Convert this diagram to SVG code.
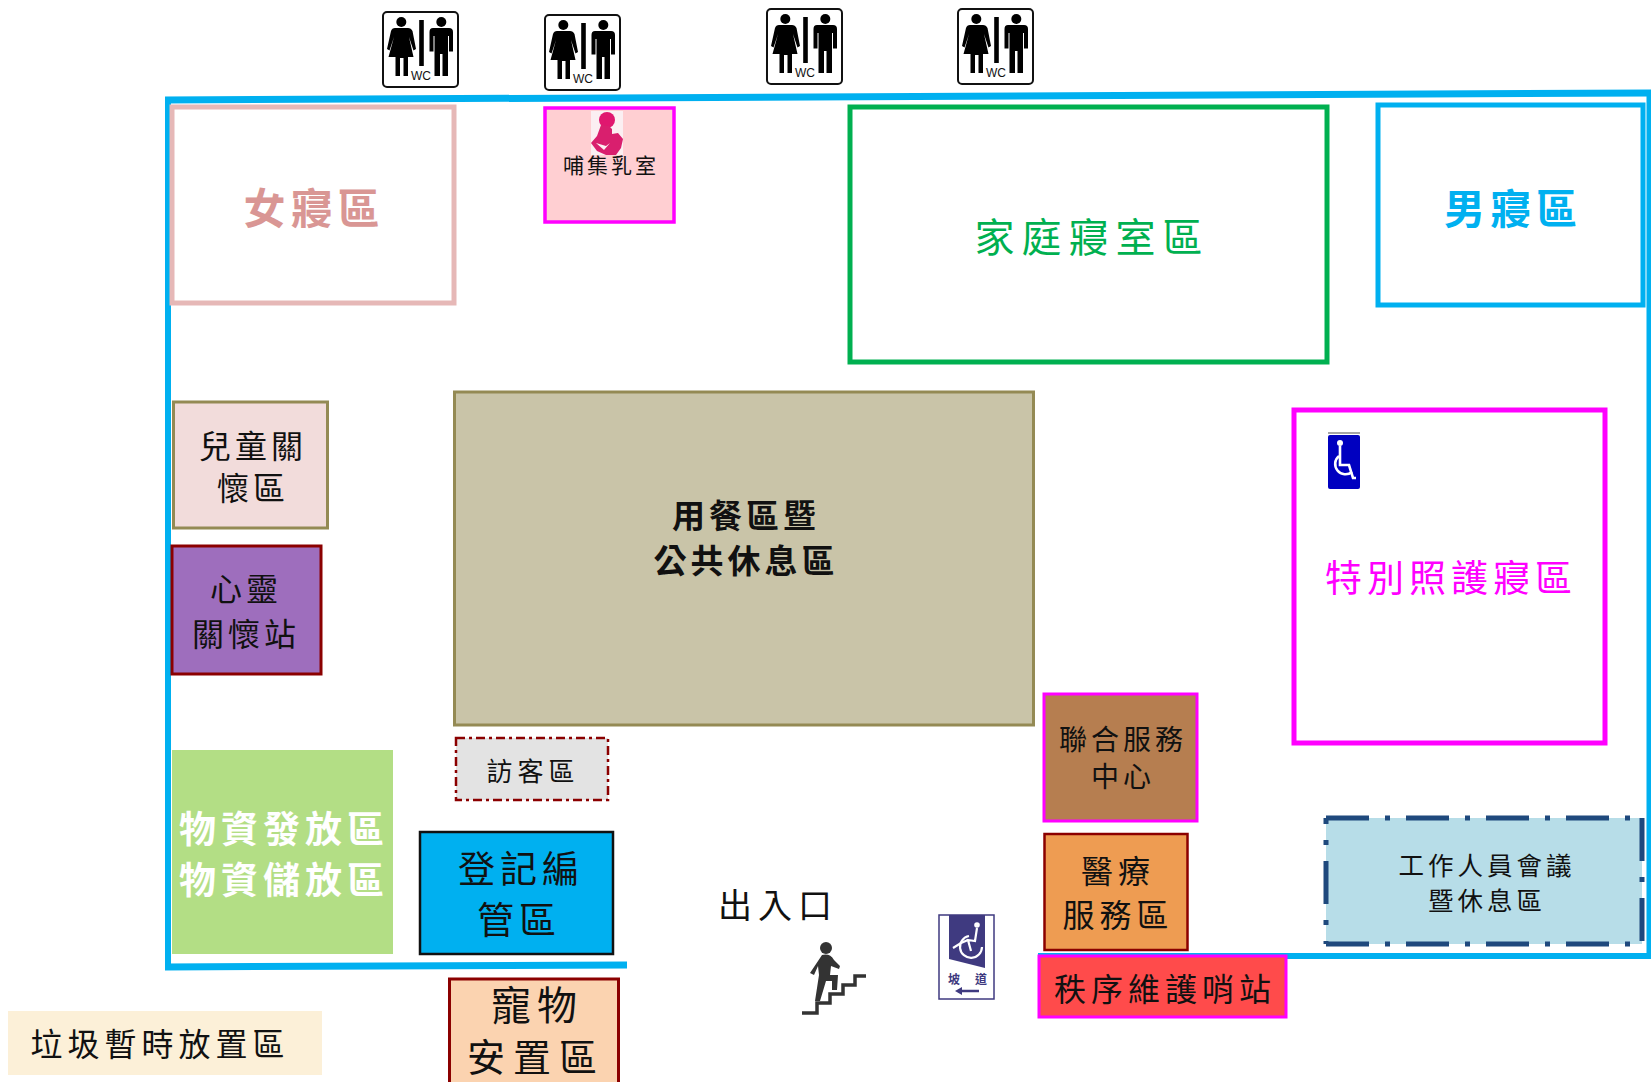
<svg xmlns="http://www.w3.org/2000/svg" xmlns:xlink="http://www.w3.org/1999/xlink" width="1651" height="1082" viewBox="0 0 1651 1082">
<style>
text{font-family:"Noto Sans CJK TC","Noto Sans CJK SC",sans-serif;text-anchor:middle;dominant-baseline:central;fill:#111}
.b{font-weight:700}
.w{fill:none;stroke:#00B0F0;stroke-linejoin:miter}
</style>
<defs>
<g id="wc">
<rect x="1" y="1" width="75" height="75" rx="4" fill="#fff" stroke="#111" stroke-width="2"/>
<circle cx="19.300" cy="11" r="5" fill="#000"/>
<path d="M13 17H26Q29 17 30.500 20L34 38L31.500 39.500L27 26L31.500 46H26V65H21.500V47H18V65H13.500V46H6.500L12 26L7.500 39.500L5 38L9 20Q10 17 13 17Z" fill="#000"/>
<rect x="37.200" y="9" width="4.600" height="46" fill="#000"/>
<circle cx="59.300" cy="11" r="5" fill="#000"/>
<path d="M51 17H67Q71 17 71 21V40.500H67V25H66V65H60.500V43H58V65H52.500V25H51.500V40.500H47.500V21Q47.500 17 51 17Z" fill="#000"/>
<text x="39" y="65" font-size="12" style="font-family:'Liberation Sans',sans-serif;fill:#111">WC</text>
</g>
</defs>
<g id="connectors">
<path class="w" stroke-width="7" d="M165 100L1651 93"/>
<path class="w" stroke-width="6" d="M168 98V970"/>
<path class="w" stroke-width="7" d="M165 967L627 965"/>
<path class="w" stroke-width="5" d="M1649 92V957"/>
<path class="w" stroke-width="6" d="M1038 956H1651"/>
</g>
<g id="wc1"><use xlink:href="#wc" href="#wc" x="382" y="11"/></g>
<g id="wc2"><use xlink:href="#wc" href="#wc" x="544" y="14"/></g>
<g id="wc3"><use xlink:href="#wc" href="#wc" x="766" y="8"/></g>
<g id="wc4"><use xlink:href="#wc" href="#wc" x="957" y="8"/></g>
<g id="women"><rect x="172" y="107" width="282" height="196" fill="#fff" stroke="#E6B8B7" stroke-width="5"/><text class="b" x="314" y="205" font-size="42" letter-spacing="5" style="fill:#D99694">女寢區</text></g>
<g id="nursing"><rect x="545" y="108" width="129" height="114" fill="#FFCFD2" stroke="#FF00FF" stroke-width="3.500"/>
<rect x="591" y="111" width="32" height="44" fill="#FBEFF2"/>
<circle cx="607" cy="120" r="8" fill="#E0176F"/>
<path d="M601 125L597 136L591 143L597 151L606 155H616L621 148L623 139L618 133L612 134L612 129L609 126Z" fill="#D91F6E"/>
<path d="M596 143L604 150L610 143L606 146Z" fill="#FBEFF2"/>
<text x="611" y="164" font-size="21" letter-spacing="3">哺集乳室</text></g>
<g id="family"><rect x="850" y="107" width="477" height="255" fill="#fff" stroke="#00B050" stroke-width="5"/><text x="1092" y="235" font-size="40" letter-spacing="7" style="fill:#00B050">家庭寢室區</text></g>
<g id="men"><rect x="1378" y="105" width="265" height="200" fill="#fff" stroke="#00B0F0" stroke-width="5"/><text class="b" x="1513" y="206" font-size="41" letter-spacing="5" style="fill:#00B0F0">男寢區</text></g>
<g id="children"><rect x="173.500" y="402" width="154" height="126" fill="#F2DCDB" stroke="#948A54" stroke-width="3"/><text x="253" y="444" font-size="32" letter-spacing="4">兒童關</text><text x="253" y="486" font-size="32" letter-spacing="4">懷區</text></g>
<g id="spirit"><rect x="172" y="546" width="149" height="128" fill="#9E6EBD" stroke="#8B0000" stroke-width="3"/><text x="246" y="587" font-size="32" letter-spacing="4">心靈</text><text x="246" y="632" font-size="32" letter-spacing="4">關懷站</text></g>
<g id="dining"><rect x="454.500" y="392" width="579" height="333" fill="#C9C4A8" stroke="#948A54" stroke-width="3"/><text class="b" x="746" y="514" font-size="33" letter-spacing="4">用餐區暨</text><text class="b" x="746" y="559" font-size="33" letter-spacing="4">公共休息區</text></g>
<g id="special"><rect x="1294" y="410" width="311" height="333" fill="#fff" stroke="#FF00FF" stroke-width="5"/>
<text x="1451" y="576" font-size="37" letter-spacing="5" style="fill:#FF00FF">特別照護寢區</text>
<path d="M1328 433H1360" stroke="#888" stroke-width="1.500"/>
<rect x="1328" y="435" width="32" height="54" rx="2" fill="#0000C0"/>
<g fill="none" stroke="#fff" stroke-width="2.600"><path d="M1340 446V465H1349L1353 478H1356"/><path d="M1339 456A10 10 0 1 0 1352 472"/></g><circle cx="1340" cy="443" r="3" fill="#fff"/></g>
<g id="joint"><rect x="1044" y="694" width="153" height="127" fill="#B67E50" stroke="#FF00FF" stroke-width="3"/><text x="1123" y="738" font-size="28" letter-spacing="4">聯合服務</text><text x="1123" y="775" font-size="28" letter-spacing="4">中心</text></g>
<g id="visitor"><rect x="456" y="738" width="152" height="62" fill="#E3E3E3" stroke="#8B0000" stroke-width="2.500" stroke-dasharray="9 4 3 4"/><text x="533" y="769" font-size="26" letter-spacing="5">訪客區</text></g>
<g id="supply"><rect x="172" y="750" width="221" height="204" fill="#B3DE85"/><text class="b" x="284" y="827" font-size="37" letter-spacing="5" style="fill:#fff">物資發放區</text><text class="b" x="284" y="878" font-size="37" letter-spacing="5" style="fill:#fff">物資儲放區</text></g>
<g id="register"><rect x="420" y="832" width="193" height="122" fill="#00B0F0" stroke="#111" stroke-width="2.500"/><text x="521" y="867" font-size="37" letter-spacing="5">登記編</text><text x="519" y="918" font-size="37" letter-spacing="5">管區</text></g>
<g id="entrance"><text x="778" y="903" font-size="34" letter-spacing="6">出入口</text></g>
<g id="stairs"><path d="M802 1013H817V1003H830V994H843V985H855V976H866" fill="none" stroke="#333" stroke-width="3.500"/>
<circle cx="826" cy="948" r="6" fill="#333"/>
<path d="M822 955Q830 953 834 960L840 966L839 969L831 966L830 975L838 975L837 990L832 990L832 981L826 981L820 1001L815 1001L819 975L818 966L814 975L810 973Z" fill="#333"/></g>
<g id="ramp"><rect x="939" y="915" width="55" height="84" fill="#fff" stroke="#3F3A80" stroke-width="1.500"/>
<path d="M949 915H985V968L949 959Z" fill="#3F3A80"/>
<g fill="none" stroke="#fff" stroke-width="2.200"><path d="M977 928L975 941L968 940L971 951"/><path d="M969 936A11 11 0 1 0 982 947"/><path d="M953 948L961 943L968 940"/></g><circle cx="977" cy="925" r="2.800" fill="#fff"/>
<text class="b" x="954" y="978" font-size="12" style="fill:#3F3A80">坡</text><text class="b" x="981" y="978" font-size="12" style="fill:#3F3A80">道</text>
<path d="M958 991H979" stroke="#3F3A80" stroke-width="2.500"/><path d="M955 991L962 987V995Z" fill="#3F3A80"/></g>
<g id="medical"><rect x="1044.500" y="834" width="143" height="116" fill="#EE9C52" stroke="#8B0000" stroke-width="2.500"/><text x="1118" y="869" font-size="32" letter-spacing="5">醫療</text><text x="1118" y="913" font-size="32" letter-spacing="5">服務區</text></g>
<g id="security"><rect x="1039" y="956" width="247" height="61" fill="#FF4B4B" stroke="#FF00FF" stroke-width="3"/><text x="1165" y="987" font-size="32" letter-spacing="5">秩序維護哨站</text></g>
<g id="staff"><rect x="1326" y="818" width="316" height="126" fill="#B7DDE8"/>
<g fill="none" stroke="#1F497D" stroke-width="5" stroke-dasharray="43 16 5 16"><path d="M1326 818H1642"/><path d="M1642 818V944"/><path d="M1326 944H1642"/><path d="M1326 818V944" stroke-dashoffset="37"/></g>
<text x="1487" y="863" font-size="25.500" letter-spacing="4">工作人員會議</text><text x="1487" y="898" font-size="25.500" letter-spacing="4">暨休息區</text></g>
<g id="pet"><rect x="449.500" y="979" width="169" height="110" fill="#FBD3B0" stroke="#8B0000" stroke-width="3"/><text x="537" y="1003" font-size="40" letter-spacing="6">寵物</text><text x="536" y="1054" font-size="38" letter-spacing="8">安置區</text></g>
<g id="trash"><rect x="8" y="1011" width="314" height="64" fill="#FCF0D8"/><text x="160" y="1042" font-size="32" letter-spacing="5">垃圾暫時放置區</text></g>
</svg>
